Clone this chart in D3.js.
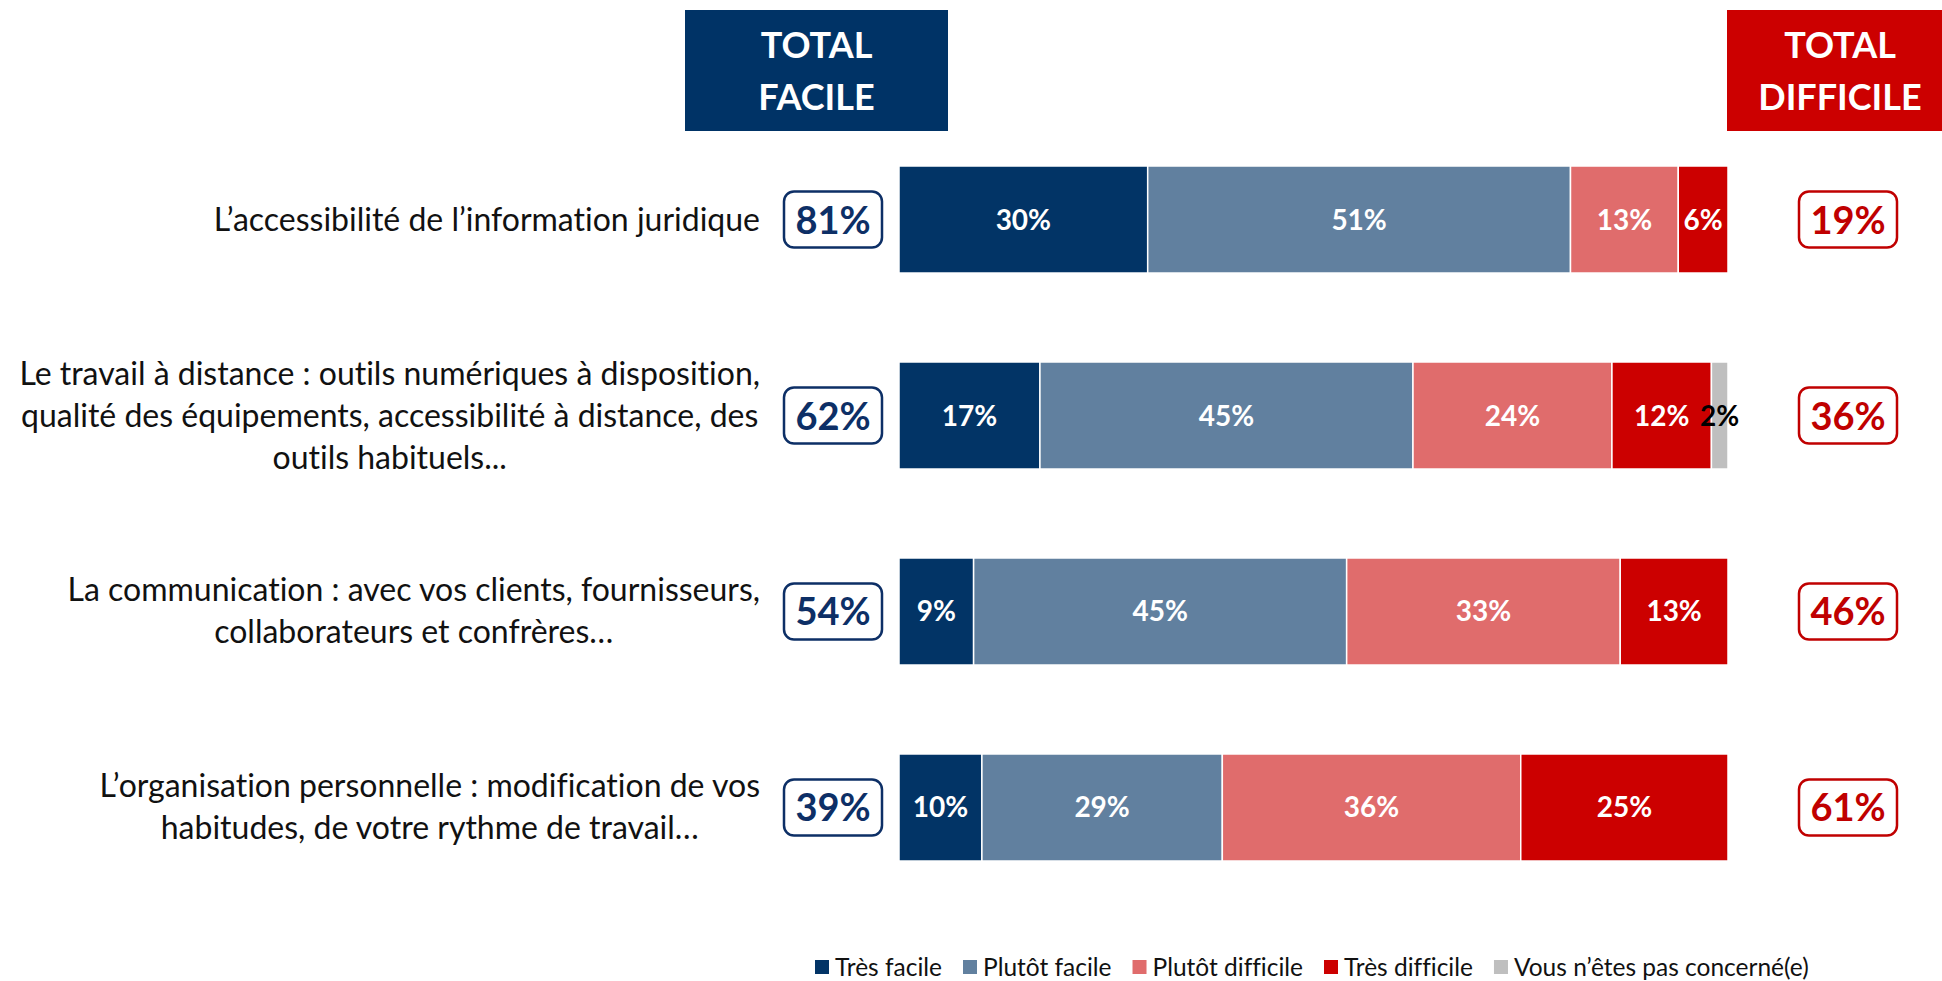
<!DOCTYPE html>
<html>
<head>
<meta charset="utf-8">
<script src="https://cdn.jsdelivr.net/npm/d3@7"></script>
<style>
  body { margin: 0; background: #fff; }
  svg { display: block; font-family: Lato, "Open Sans", sans-serif; font-variant-ligatures: none; }
</style>
</head>
<body>
<div id="chart"></div>
<script>
// data
let categories = [
    ["L\u2019accessibilité de l\u2019information juridique"],
    ["Le travail à distance : outils numériques à disposition,", "qualité des équipements, accessibilité à distance, des", "outils habituels..."],
    ["La communication : avec vos clients, fournisseurs,", "collaborateurs et confrères\u2026"],
    ["L\u2019organisation personnelle : modification de vos", "habitudes, de votre rythme de travail\u2026"]
];
let seriesNames = ["Très facile", "Plutôt facile", "Plutôt difficile", "Très difficile", "Vous n\u2019êtes pas concerné(e)"];
let tresFacile = [30, 17, 9, 10];
let plutotFacile = [51, 45, 45, 29];
let plutotDifficile = [13, 24, 33, 36];
let tresDifficile = [6, 12, 13, 25];
let pasConcerne = [0, 2, 0, 0];
let totalFacile = [81, 62, 54, 39];
let totalDifficile = [19, 36, 46, 61];
let colors = ["#023466", "#61809f", "#e06c6c", "#cc0000", "#bfbfbf"];

window.onload = () => {
    draw();
};

function draw() {
    let svg = d3.select("#chart").append("svg").attr("width", 1942).attr("height", 981);

    let table = categories.map((c, i) => {
        return {
            id: i,
            "Très facile": tresFacile[i],
            "Plutôt facile": plutotFacile[i],
            "Plutôt difficile": plutotDifficile[i],
            "Très difficile": tresDifficile[i],
            "Vous n\u2019êtes pas concerné(e)": pasConcerne[i]
        };
    });

    let x = d3.scaleLinear().domain([0, 100]).range([899, 1728]);
    let y = d3.scaleBand().domain(d3.range(categories.length)).range([166, 861]).paddingInner(0.454).paddingOuter(0);
    let color = d3.scaleOrdinal().domain(seriesNames).range(colors);

    // header boxes
    let heads = [
        {x: 685, w: 263, cx: 816.5, fill: "#003366", lines: ["TOTAL", "FACILE"]},
        {x: 1727, w: 225, cx: 1840, fill: "#cc0000", lines: ["TOTAL", "DIFFICILE"]}
    ];
    heads.forEach(h => {
        svg.append("rect").attr("x", h.x).attr("y", 10).attr("width", h.w).attr("height", 121).attr("fill", h.fill);
        h.lines.forEach((l, i) => {
            svg.append("text")
                .attr("x", h.cx).attr("y", 58 + i * 52)
                .attr("text-anchor", "middle")
                .attr("font-size", "36px").attr("font-weight", "bold")
                .attr("fill", "white")
                .text(l);
        });
    });

    // stacked bars
    let stacked = d3.stack().keys(seriesNames)(table);
    let layers = svg.selectAll("g.layer").data(stacked).enter().append("g")
        .attr("class", "layer")
        .attr("fill", d => color(d.key));

    layers.selectAll("rect").data(d => d.filter(p => p[1] > p[0])).enter().append("rect")
        .attr("x", d => x(d[0]))
        .attr("y", d => y(d.data.id))
        .attr("width", d => x(d[1]) - x(d[0]))
        .attr("height", y.bandwidth())
        .attr("stroke", "white")
        .attr("stroke-width", 1.5);

    layers.selectAll("text").data(d => d.filter(p => p[1] > p[0]).map(p => ({p: p, key: d.key}))).enter().append("text")
        .attr("x", d => (x(d.p[0]) + x(d.p[1])) / 2)
        .attr("y", d => y(d.p.data.id) + y.bandwidth() / 2 + 10)
        .attr("text-anchor", "middle")
        .attr("font-size", "28px").attr("font-weight", "bold")
        .attr("fill", d => d.key == seriesNames[4] ? "black" : "white")
        .text(d => (d.p[1] - d.p[0]) + "%");

    // category labels, centred block ending at x=760
    categories.forEach((lines, i) => {
        let g = svg.append("g");
        let cy = y(i) + y.bandwidth() / 2;
        let texts = lines.map((l, j) => {
            return g.append("text")
                .attr("y", cy + (j - (lines.length - 1) / 2) * 42 + 11)
                .attr("font-size", "32px")
                .attr("fill", "#111")
                .attr("text-anchor", "middle")
                .text(l);
        });
        let maxW = d3.max(texts, t => t.node().getComputedTextLength());
        texts.forEach(t => t.attr("x", 760 - maxW / 2));
    });

    // total boxes
    let boxes = [
        {vals: totalFacile, cx: 833, col: "#0d2f66"},
        {vals: totalDifficile, cx: 1848, col: "#c00000"}
    ];
    boxes.forEach(b => {
        b.vals.forEach((v, i) => {
            let cy = y(i) + y.bandwidth() / 2;
            svg.append("rect")
                .attr("x", b.cx - 49).attr("y", cy - 28)
                .attr("width", 98).attr("height", 56)
                .attr("rx", 10)
                .attr("fill", "white")
                .attr("stroke", b.col).attr("stroke-width", 2.5);
            svg.append("text")
                .attr("x", b.cx).attr("y", cy + 14)
                .attr("text-anchor", "middle")
                .attr("font-size", "38px").attr("font-weight", "bold")
                .attr("fill", b.col)
                .text(v + "%");
        });
    });

    // legend
    let lx = 815;
    seriesNames.forEach((s, i) => {
        svg.append("rect").attr("x", lx).attr("y", 960).attr("width", 14).attr("height", 14).attr("fill", colors[i]);
        let t = svg.append("text")
            .attr("x", lx + 20).attr("y", 976)
            .attr("font-size", "24.5px")
            .attr("fill", "#111")
            .text(s);
        lx += 20 + t.node().getComputedTextLength() + 21;
    });
}
</script>
</body>
</html>
